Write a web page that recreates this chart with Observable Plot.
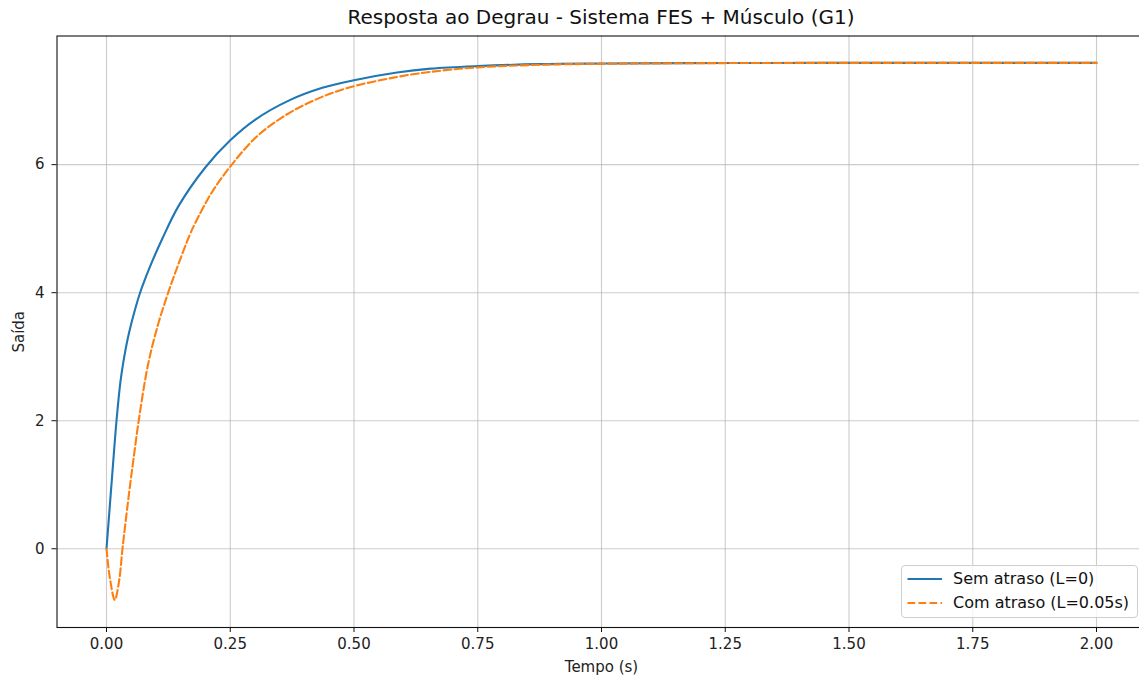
<!DOCTYPE html>
<html>
<head>
<meta charset="utf-8">
<script src="https://cdn.jsdelivr.net/npm/d3@7"></script>
<script src="https://cdn.jsdelivr.net/npm/@observablehq/plot@0.6"></script>
<style>
  body { margin: 0; background: #fff; font-family: "DejaVu Sans", sans-serif; }
  #wrap { position: relative; width: 1139px; height: 676px; overflow: hidden; background: #fff; }
  #title { height: 34px; line-height: 34px; margin-left: 56.5px; width: 1089px; text-align: center;
           font-size: 20px; color: #111; white-space: nowrap; }
  #legend { position: absolute; left: 900.5px; top: 565px; width: 237px; height: 53px; box-sizing: border-box;
            border: 1px solid #cfcfcf; border-radius: 4px; background: rgba(255,255,255,0.8);
            font-size: 16px; color: #111; }
  .row { position: absolute; left: 0; height: 24px; width: 100%; }
  .row svg { position: absolute; left: 5px; top: 0; }
  .row span { position: absolute; left: 51.5px; top: 0; line-height: 24px; white-space: nowrap; }
</style>
</head>
<body>
<div id="wrap">
  <div id="title"></div>
  <div id="chart"></div>
  <div id="legend"></div>
</div>
<script>
// ---- data ----
const titleText = "Resposta ao Degrau - Sistema FES + Músculo (G1)";
const xLabel = "Tempo (s)";
const yLabel = "Saída";
const seriesNames = ["Sem atraso (L=0)", "Com atraso (L=0.05s)"];
const seriesColors = ["#1f77b4", "#ff7f0e"];

// Series 1: without delay
const tNoDelay = [0, 0.0115, 0.0202, 0.028, 0.0337, 0.042, 0.0505, 0.067, 0.0875, 0.112, 0.146, 0.2, 0.25, 0.3, 0.368, 0.436, 0.5, 0.587, 0.655, 0.75, 0.875, 1.0, 1.25, 1.5, 1.75, 2.0];
const yNoDelay = [0, 1.15, 2.0, 2.6, 2.9, 3.25, 3.53, 3.98, 4.4, 4.83, 5.36, 5.96, 6.38, 6.7, 7.0, 7.2, 7.32, 7.44, 7.5, 7.54, 7.57, 7.58, 7.588, 7.59, 7.59, 7.59];

// Series 2: with delay (L = 0.05 s)
const tDelay = [0, 0.0067, 0.0168, 0.0255, 0.0323, 0.0437, 0.054, 0.066, 0.084, 0.1044, 0.1246, 0.145, 0.168, 0.18, 0.213, 0.25, 0.301, 0.355, 0.415, 0.483, 0.587, 0.655, 0.75, 0.875, 1.0, 1.25, 1.5, 1.75, 2.0];
const yDelay = [0, -0.45, -0.80, -0.50, 0, 0.75, 1.37, 2.05, 2.88, 3.51, 4.0, 4.44, 4.9, 5.1, 5.57, 5.97, 6.42, 6.74, 6.99, 7.19, 7.37, 7.45, 7.52, 7.56, 7.575, 7.587, 7.59, 7.59, 7.59];

const xTicks = [0, 0.25, 0.5, 0.75, 1.0, 1.25, 1.5, 1.75, 2.0];
const yTicks = [0, 2, 4, 6];

// ---- build tables ----
const noDelay = tNoDelay.map((t, i) => ({t, v: yNoDelay[i]}));
const withDelay = tDelay.map((t, i) => ({t, v: yDelay[i]}));

document.getElementById("title").textContent = titleText;

const gridStyle = {stroke: "#b0b0b0", strokeOpacity: 0.65, strokeWidth: 1.1};

const chart = Plot.plot({
  width: 1139,
  height: 642,
  marginTop: 1.5,
  marginBottom: 49,
  marginLeft: 56.5,
  marginRight: -6.5,
  style: {fontFamily: '"DejaVu Sans", sans-serif', fontSize: "15px", color: "#222", background: "white"},
  x: {domain: [-0.1, 2.1]},
  y: {domain: [-1.23, 8.01]},
  marks: [
    Plot.gridX(xTicks, gridStyle),
    Plot.gridY(yTicks, gridStyle),
    Plot.line(noDelay, {x: "t", y: "v", stroke: seriesColors[0], strokeWidth: 2.1, curve: "catmull-rom"}),
    Plot.line(withDelay, {x: "t", y: "v", stroke: seriesColors[1], strokeWidth: 2.1, strokeDasharray: "7.7,3.3", curve: "catmull-rom"}),
    Plot.frame({stroke: "#111", strokeWidth: 1.1}),
    Plot.axisX(xTicks, {tickFormat: d3.format(".2f"), tickSize: 5, tickPadding: 6, stroke: "#111",
      label: xLabel, labelAnchor: "center", labelArrow: "none", labelOffset: 44}),
    Plot.axisY(yTicks, {tickFormat: d3.format("d"), tickSize: 5, tickPadding: 7.5, stroke: "#111",
      label: yLabel, labelAnchor: "center", labelArrow: "none", labelOffset: 44})
  ]
});
document.getElementById("chart").appendChild(chart);

// ---- legend ----
const legend = document.getElementById("legend");
const dashes = [null, "7.7,3.3"];
seriesNames.forEach((name, i) => {
  const row = document.createElement("div");
  row.className = "row";
  row.style.top = (i * 24 + 0.5) + "px";
  row.innerHTML = `<svg width="36" height="24"><line x1="0.5" x2="35" y1="12" y2="12" stroke="${seriesColors[i]}" stroke-width="2.1" ${dashes[i] ? `stroke-dasharray="${dashes[i]}"` : ""}/></svg><span></span>`;
  row.querySelector("span").textContent = name;
  legend.appendChild(row);
});
</script>
</body>
</html>
